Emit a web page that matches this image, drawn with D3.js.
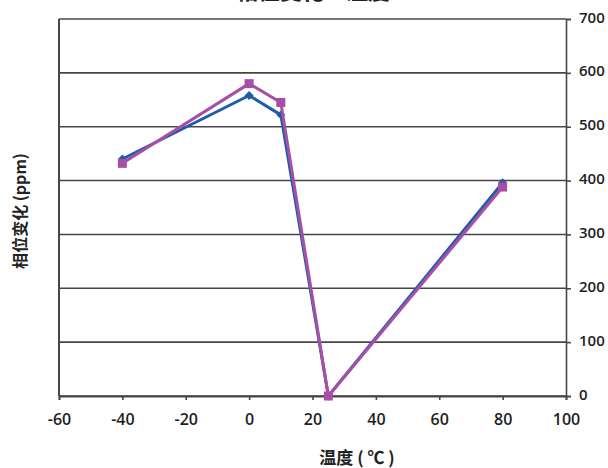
<!DOCTYPE html>
<html><head><meta charset="utf-8">
<script src="https://cdn.jsdelivr.net/npm/d3@7"></script>
<style>body{margin:0;background:#fff}svg{display:block}</style>
</head><body>
<script>
const title = "相位变化 – 温度";
const xLabel = "温度 ( ℃ )";
const yLabel = "相位变化 (ppm)";
const xTicks = [-60, -40, -20, 0, 20, 40, 60, 80, 100];
const yTicks = [0, 100, 200, 300, 400, 500, 600, 700];
const temps = [-40, 0, 10, 25, 80];
const seriesBlue = [440, 558, 522, 0, 396];
const seriesPink = [432, 580, 545, 0, 388];

const W = 608, H = 468;
const m = {left: 59, right: 42, top: 19, bottom: 72};
const svg = d3.select("body").append("svg").attr("width", W).attr("height", H);
const x = d3.scaleLinear().domain([-60, 100]).range([m.left, W - m.right]);
const y = d3.scaleLinear().domain([0, 700]).range([H - m.bottom, m.top]);
const grid = "#4a4646";
const font = "'Open Sans','Noto Sans CJK SC',sans-serif";
const cjk = "'Noto Sans CJK SC',sans-serif";

// gridlines
svg.append("g").selectAll("line").data(yTicks).join("line")
  .attr("x1", m.left).attr("x2", W - m.right)
  .attr("y1", d => y(d)).attr("y2", d => y(d))
  .attr("stroke", grid).attr("stroke-width", 1.6);

// left axis line
svg.append("line").attr("x1", m.left).attr("x2", m.left)
  .attr("y1", m.top).attr("y2", y(0)).attr("stroke", grid).attr("stroke-width", 2);

// right axis
const ry = svg.append("g").attr("transform", `translate(${W - m.right},0)`)
  .call(d3.axisRight(y).tickValues(yTicks).tickSize(5).tickPadding(8).tickFormat(d => String(d)));
ry.select(".domain").attr("stroke", grid).attr("stroke-width", 1.6);
ry.selectAll(".tick line").attr("stroke", grid).attr("stroke-width", 1.6);
ry.selectAll("text").attr("font-family", font).attr("font-size", 15).attr("font-weight", 600)
  .attr("fill", "#1e1e1e").attr("dy", "0.2em");

// bottom axis
const bx = svg.append("g").attr("transform", `translate(0,${y(0)})`)
  .call(d3.axisBottom(x).tickValues(xTicks).tickSize(4).tickPadding(14).tickFormat(d => String(d)));
bx.select(".domain").attr("stroke", grid).attr("stroke-width", 1.8);
bx.selectAll(".tick line").attr("stroke", grid).attr("stroke-width", 1.6);
bx.selectAll("text").attr("font-family", font).attr("font-size", 16).attr("font-weight", 600)
  .attr("fill", "#1e1e1e");

// series
const line = d3.line().x((d, i) => x(temps[i])).y(d => y(d));
const blue = "#1f5dab", pink = "#a84ea6";
svg.append("path").datum(seriesBlue).attr("d", line).attr("fill", "none")
  .attr("stroke", blue).attr("stroke-width", 3).attr("stroke-linejoin", "round");
svg.append("g").selectAll("path").data(seriesBlue).join("path")
  .attr("d", d3.symbol(d3.symbolSquare, 40)())
  .attr("transform", (d, i) => `translate(${x(temps[i])},${y(d)}) rotate(45)`)
  .attr("fill", blue);
svg.append("path").datum(seriesPink).attr("d", line).attr("fill", "none")
  .attr("stroke", pink).attr("stroke-width", 3).attr("stroke-linejoin", "round");
svg.append("g").selectAll("rect").data(seriesPink).join("rect")
  .attr("x", (d, i) => x(temps[i]) - 4.5).attr("y", d => y(d) - 4.5)
  .attr("width", 9).attr("height", 9).attr("fill", pink);

// texts
svg.append("text").attr("x", 313).attr("y", -1.5).attr("text-anchor", "middle")
  .attr("font-family", cjk).attr("font-weight", "bold").attr("font-size", 22).attr("fill", "#222").text(title);
svg.append("text").attr("x", 357).attr("y", 464).attr("text-anchor", "middle")
  .attr("font-family", cjk).attr("font-weight", "bold").attr("font-size", 17).attr("fill", "#222").text(xLabel);
svg.append("text").attr("transform", "translate(26,211) rotate(-90)").attr("text-anchor", "middle")
  .attr("font-family", cjk).attr("font-weight", "bold").attr("font-size", 16).attr("fill", "#222").text(yLabel);
</script>
</body></html>
